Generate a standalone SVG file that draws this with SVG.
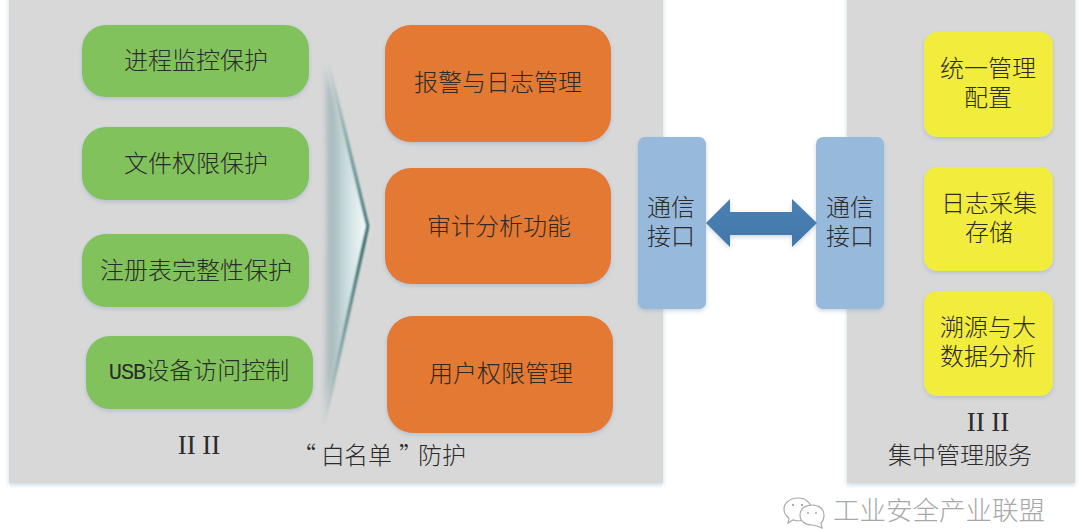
<svg xmlns="http://www.w3.org/2000/svg" width="1080" height="529" viewBox="0 0 1080 529">
<defs>
<style>
text{font-family:"Noto Sans CJK SC","Liberation Sans",sans-serif;font-size:24px;fill:#2b2b2b;text-anchor:middle;dominant-baseline:central;font-weight:300}
.panel{fill:#d8d8d8;filter:url(#sh)}
.g{fill:#82c25c;filter:url(#sh)}
.o{fill:#e37930;filter:url(#sh)}
.b{fill:#97b9dc;filter:url(#sh)}
.y{fill:#f2ec3c;filter:url(#sh)}
text.ser{font-family:"Liberation Serif",serif;font-size:27px}
text.base{dominant-baseline:auto}
.mono{font-family:"Liberation Mono",monospace;font-size:22px;letter-spacing:-1px}
text.wm{fill:#a8a8a8;font-size:26.5px;text-anchor:start}
.ic{fill:#fff;stroke:#aaa;stroke-width:1.2}
.dot{fill:#aaa}
</style>
<filter id="sh" x="-10%" y="-10%" width="120%" height="120%"><feDropShadow dx="0" dy="2" stdDeviation="2" flood-color="#8aa5c0" flood-opacity=".45"/></filter>
<filter id="bl" x="-30%" y="-10%" width="160%" height="120%"><feGaussianBlur stdDeviation="1.3"/></filter>
<filter id="bl2" x="-30%" y="-10%" width="160%" height="120%"><feGaussianBlur stdDeviation="2.5"/></filter>
<linearGradient id="chev" x1="0" x2="1" y1="0" y2="0"><stop offset="0" stop-color="#d8d8d8"/><stop offset=".18" stop-color="#a3b8bb"/><stop offset=".5" stop-color="#c8dbdc"/><stop offset="1" stop-color="#fbffff"/></linearGradient>
<linearGradient id="edge" x1="0" x2="0" y1="0" y2="1"><stop offset="0" stop-color="#d8d8d8"/><stop offset=".2" stop-color="#7ea4a4"/><stop offset=".5" stop-color="#1f5656"/><stop offset=".8" stop-color="#7ea4a4"/><stop offset="1" stop-color="#d8d8d8"/></linearGradient>
<linearGradient id="arr" x1="0" x2="0" y1="0" y2="1"><stop offset="0" stop-color="#4a80b4"/><stop offset="1" stop-color="#4277a9"/></linearGradient>
</defs>
<rect width="1080" height="529" fill="#fff"/>
<g id="panel-left"><rect class="panel" x="9" y="-6" width="654" height="489"/></g>
<g id="panel-right"><rect class="panel" x="847" y="-6" width="228" height="489"/></g>
<g id="chevron">
<path d="M324 62 Q328 226 322 424 L369 226 Z" fill="url(#chev)" filter="url(#bl2)"/>
<path d="M328 62 L368 226 L323 428" fill="none" stroke="url(#edge)" stroke-width="2.8" filter="url(#bl)"/>
</g>
<g id="n-process"><rect class="g" x="82" y="25" width="227" height="72" rx="24"/><text x="196" y="58">进程监控保护</text></g>
<g id="n-file"><rect class="g" x="82" y="127" width="227" height="73" rx="24"/><text x="196" y="161">文件权限保护</text></g>
<g id="n-registry"><rect class="g" x="82" y="234" width="227" height="73" rx="24"/><text x="196" y="268">注册表完整性保护</text></g>
<g id="n-usb"><rect class="g" x="86" y="336" width="227" height="73" rx="24"/><text class="base" x="199" y="379"><tspan class="mono">USB</tspan>设备访问控制</text></g>
<g id="n-alarm"><rect class="o" x="385" y="25" width="226" height="117" rx="26"/><text x="498" y="80">报警与日志管理</text></g>
<g id="n-audit"><rect class="o" x="385" y="168" width="226" height="116" rx="26"/><text x="499" y="224">审计分析功能</text></g>
<g id="n-user"><rect class="o" x="387" y="316" width="226" height="117" rx="26"/><text x="501" y="371">用户权限管理</text></g>
<g id="n-comm-left"><rect class="b" x="638" y="137" width="68" height="172" rx="7"/><text><tspan x="671" y="205">通信</tspan><tspan x="671" y="234">接口</tspan></text></g>
<g id="n-comm-right"><rect class="b" x="816" y="137" width="68" height="172" rx="7"/><text><tspan x="850" y="205">通信</tspan><tspan x="850" y="234">接口</tspan></text></g>
<g id="n-config"><rect class="y" x="924" y="32" width="129" height="105" rx="13"/><text><tspan x="988" y="66">统一管理</tspan><tspan x="988" y="95">配置</tspan></text></g>
<g id="n-log"><rect class="y" x="924" y="167" width="129" height="104" rx="13"/><text><tspan x="989" y="201">日志采集</tspan><tspan x="989" y="230">存储</tspan></text></g>
<g id="n-trace"><rect class="y" x="924" y="291" width="129" height="105" rx="13"/><text><tspan x="988" y="325">溯源与大</tspan><tspan x="988" y="354">数据分析</tspan></text></g>
<g id="connectors">
<path d="M706 223 L730 199 V212 H792 V199 L817 223 L792 247 V235 H730 V247 Z" fill="url(#arr)" filter="url(#sh)"/>
</g>
<g id="labels">
<text class="ser" x="199" y="445">II II</text>
<text x="304 333 356 380 411 430 454" y="453">“白名单”防护</text>
<text class="ser" x="988" y="422">II II</text>
<text x="960" y="453">集中管理服务</text>
</g>
<g id="watermark">
<path class="ic" d="M798 498c-8 0-14 5-14 11 0 4 2 7 5 9l-1 5 5-3 5 1c5 0 10-3 12-7 2-5 1-10-3-13-2-2-5-3-9-3z"/>
<path class="ic" d="M812 505c-7 0-12 4-12 10s5 10 12 10l5 1 5 2-1-5c2-2 3-5 3-8 0-6-5-10-12-10z"/>
<circle class="dot" cx="793" cy="505" r="1.2"/><circle class="dot" cx="802" cy="505" r="1.2"/>
<circle class="dot" cx="808" cy="513" r="1"/><circle class="dot" cx="816" cy="513" r="1"/>
<text class="wm" x="833" y="508">工业安全产业联盟</text>
</g>
</svg>
